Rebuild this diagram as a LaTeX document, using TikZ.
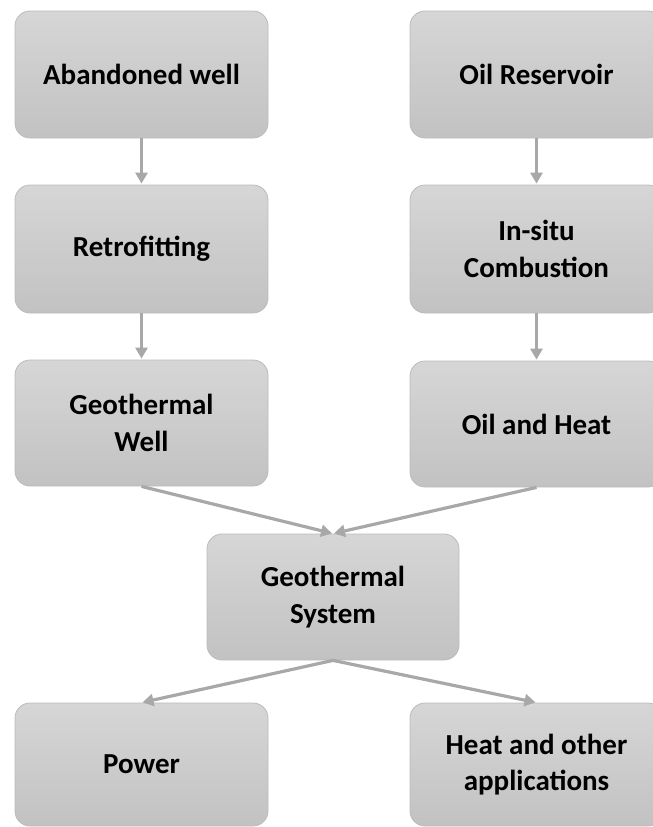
\documentclass[tikz,border=0pt]{standalone}
\usepackage{fontspec}
\setmainfont{Carlito}
\usetikzlibrary{arrows.meta}
\definecolor{boxtop}{HTML}{D6D6D6}
\definecolor{boxbot}{HTML}{C2C2C2}
\definecolor{boxline}{HTML}{BBBBBB}
\definecolor{arrowgray}{HTML}{A8A8A8}
\tikzset{
  stepbox/.style={rectangle, rounded corners=15pt, draw=boxline, line width=0.8pt,
    top color=boxtop, bottom color=boxbot, align=center,
    font=\fontsize{29}{36.5}\selectfont\bfseries, text=black, inner sep=0pt},
  flowarrow/.style={draw=arrowgray, line width=3.2pt,
    -{Triangle[width=12pt,length=11pt]}, shorten >=1pt}
}
\begin{document}
\begin{tikzpicture}[x=1pt,y=-1pt]
\useasboundingbox (0,0) rectangle (653,827);
\node[stepbox, minimum width=253pt, minimum height=127pt] (aw) at (141.5,74.5) {Abandoned well};
\node[stepbox, minimum width=253pt, minimum height=127pt] (or) at (536.5,74.5) {Oil Reservoir};
\node[stepbox, minimum width=253pt, minimum height=128pt] (rf) at (141.5,249) {Retrofitting};
\node[stepbox, minimum width=253pt, minimum height=128pt] (isc) at (536.5,249) {In-situ\\Combustion};
\node[stepbox, minimum width=253pt, minimum height=126pt] (gw) at (141.5,423) {Geothermal\\Well};
\node[stepbox, minimum width=253pt, minimum height=126pt] (oh) at (536.5,424) {Oil and Heat};
\node[stepbox, minimum width=252pt, minimum height=126pt] (gs) at (333,597) {Geothermal\\System};
\node[stepbox, minimum width=253pt, minimum height=123pt] (pw) at (141.5,764.5) {Power};
\node[stepbox, minimum width=253pt, minimum height=123pt] (ha) at (536.5,764.5) {Heat and other\\applications};
\draw[flowarrow] (aw.south) -- (rf.north);
\draw[flowarrow] (rf.south) -- (gw.north);
\draw[flowarrow] (or.south) -- (isc.north);
\draw[flowarrow] (isc.south) -- (oh.north);
\draw[flowarrow] (gw.south) -- (gs.north);
\draw[flowarrow] (oh.south) -- (gs.north);
\draw[flowarrow] (gs.south) -- (pw.north);
\draw[flowarrow] (gs.south) -- (ha.north);
\end{tikzpicture}
\end{document}
